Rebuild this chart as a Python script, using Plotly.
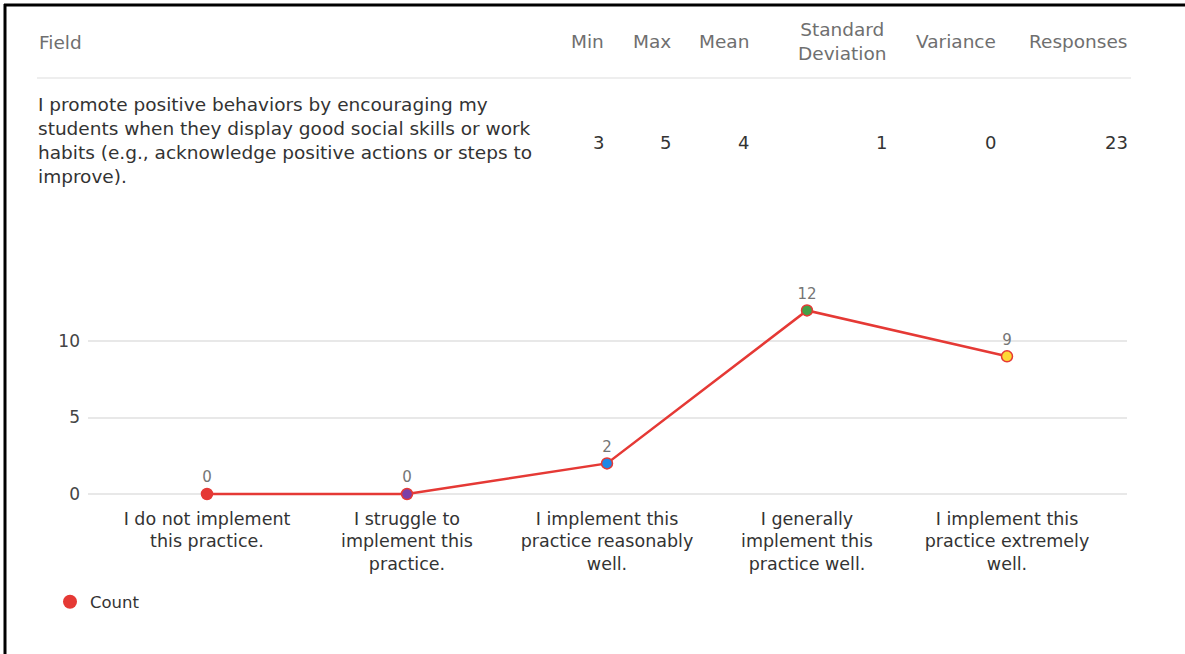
import plotly.graph_objects as go

W, H = 1185, 654
# plot area in pixels
L, R, T, B = 88, 1127, 265, 500

# ---- data ----
categories = [
    "I do not implement<br>this practice.",
    "I struggle to<br>implement this<br>practice.",
    "I implement this<br>practice reasonably<br>well.",
    "I generally<br>implement this<br>practice well.",
    "I implement this<br>practice extremely<br>well.",
]
counts = [0, 0, 2, 12, 9]
point_colors = ["#e53935", "#7b3fa8", "#1e88e5", "#43a047", "#fdd835"]

header_labels = ["Min", "Max", "Mean", "Standard<br>Deviation", "Variance", "Responses"]
row_values = ["3", "5", "4", "1", "0", "23"]
field_text = ("I promote positive behaviors by encouraging my<br>"
              "students when they display good social skills or work<br>"
              "habits (e.g., acknowledge positive actions or steps to<br>"
              "improve).")
y_ticks = [0, 5, 10]

FONT = "'DejaVu Sans', Arial, sans-serif"
RED = "#e53935"


def px(x):
    """pixel x -> paper x (paper spans the plot area)"""
    return (x - L) / (R - L)


def py(y):
    """pixel y (from top) -> paper y"""
    return (B - y) / (B - T)


fig = go.Figure()

fig.add_trace(go.Scatter(
    x=categories, y=counts,
    mode="lines+markers+text",
    text=[str(c) for c in counts],
    textposition="top center",
    textfont=dict(family=FONT, size=15, color="#757575"),
    line=dict(color=RED, width=2.5),
    marker=dict(size=11, color=point_colors, line=dict(color=RED, width=1.5)),
    showlegend=False,
    cliponaxis=False,
))

# legend entry
fig.add_trace(go.Scatter(
    x=[None], y=[None], mode="markers", name="Count",
    marker=dict(size=14, color=RED),
))

annotations = []
# table header
annotations.append(dict(x=px(37), y=py(42), xref="paper", yref="paper",
                        text="Field", showarrow=False, xanchor="left", yanchor="middle",
                        font=dict(family=FONT, size=18.5, color="#6f6f6f")))
header_right = [606, 673, 751, 889, 998, 1130]
for lab, xr in zip(header_labels, header_right):
    annotations.append(dict(x=px(xr), y=py(41), xref="paper", yref="paper",
                            text=lab, showarrow=False, xanchor="right", yanchor="middle",
                            align="center",
                            font=dict(family=FONT, size=18.5, color="#6f6f6f")))
# table row
annotations.append(dict(x=px(36), y=py(141), xref="paper", yref="paper",
                        text=field_text, showarrow=False, xanchor="left", yanchor="middle",
                        align="left",
                        font=dict(family=FONT, size=18.5, color="#333333")))
for val, xr in zip(row_values, header_right):
    annotations.append(dict(x=px(xr), y=py(142), xref="paper", yref="paper",
                            text=val, showarrow=False, xanchor="right", yanchor="middle",
                            font=dict(family=FONT, size=18, color="#333333")))

shapes = [
    # header separator
    dict(type="line", xref="paper", yref="paper", x0=px(37), x1=px(1131),
         y0=py(78), y1=py(78), line=dict(color="#eeeeee", width=2)),
    # frame: top edge and left edge only
    dict(type="line", xref="paper", yref="paper", x0=px(4), x1=px(1190),
         y0=py(5), y1=py(5), line=dict(color="black", width=3)),
    dict(type="line", xref="paper", yref="paper", x0=px(5), x1=px(5),
         y0=py(4), y1=py(660), line=dict(color="black", width=3)),
]

fig.update_layout(
    width=W, height=H, autosize=False,
    margin=dict(l=L, r=W - R, t=T, b=H - B, pad=0),
    paper_bgcolor="white", plot_bgcolor="white",
    font=dict(family=FONT, color="#333333"),
    xaxis=dict(type="category", range=[-0.595, 4.6], showgrid=False, zeroline=False,
               showline=False, ticks="", ticklabelstandoff=6,
               tickfont=dict(family=FONT, size=17.5, color="#333333")),
    yaxis=dict(range=[-0.39, 14.97], tickvals=y_ticks, showgrid=True, gridcolor="#e8e8e8",
               gridwidth=1.5, zeroline=False, showline=False, ticks="", ticklabelstandoff=7,
               tickfont=dict(family=FONT, size=17, color="#444444")),
    legend=dict(x=px(50), y=py(602), xanchor="left", yanchor="middle",
                font=dict(family=FONT, size=16.5, color="#333333"), bgcolor="rgba(0,0,0,0)"),
    annotations=annotations,
    shapes=shapes,
)

fig.write_html("out.html")
